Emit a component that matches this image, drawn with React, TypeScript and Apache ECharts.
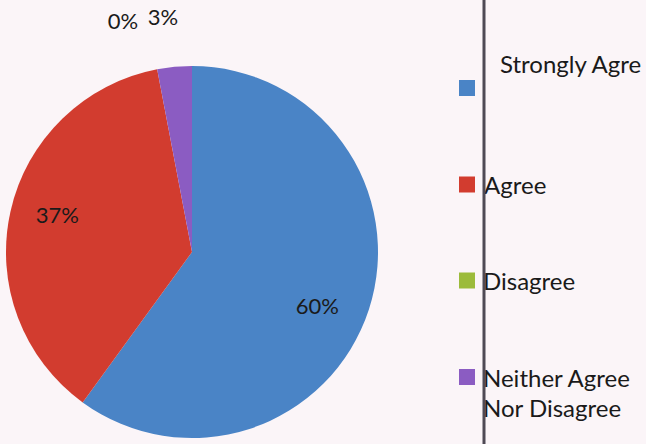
import React, { useEffect, useRef } from "react";
import * as echarts from "echarts";

const categories = ["Strongly Agree", "Agree", "Disagree", "Neither Agree Nor Disagree"];
const values = [60, 37, 0, 3];
const colors = ["#4a84c6", "#d23c2f", "#9cbb3b", "#8b5cc2"];
const legendLabels = ["Strongly Agre\n", "Agree", "Disagree", "\nNeither Agree\nNor Disagree"];

export default function App() {
  const ref = useRef<HTMLDivElement>(null);
  useEffect(() => {
    if (!ref.current) return;
    const chart = echarts.init(ref.current, null, { renderer: "svg" });
    const font = "Lato, 'Open Sans', sans-serif";
    const labelOffsets: Record<string, number[]> = {
      "Strongly Agree": [34, 24],
      Agree: [-41, -17],
      Disagree: [-51, -137],
      "Neither Agree Nor Disagree": [-20, -140],
    };
    const legendTops = [38, 172, 268, 332];
    const legendLineHeights = [50, 25, 25, 30];
    const legendPadLeft = [20, 4, 3, 3];
    const legends = categories.map((c, i) => ({
      data: [c],
      orient: "vertical",
      left: 459,
      top: legendTops[i],
      padding: 0,
      itemWidth: 16,
      itemHeight: 16,
      icon: "rect",
      selectedMode: false,
      formatter: () => legendLabels[i],
      textStyle: {
        fontFamily: font,
        fontSize: 24,
        color: "#1a1a1a",
        lineHeight: legendLineHeights[i],
        padding: [0, 0, 0, legendPadLeft[i]],
      },
    }));
    chart.setOption({
      animation: false,
      backgroundColor: "#fbf5f8",
      legend: legends,
      graphic: [
        {
          type: "line",
          shape: { x1: 484, y1: 0, x2: 484, y2: 444 },
          style: { stroke: "#4f4a55", lineWidth: 3 },
          z: 10,
        },
      ],
      series: [
        {
          type: "pie",
          center: [192, 252],
          radius: 186,
          startAngle: 90,
          clockwise: true,
          avoidLabelOverlap: false,
          itemStyle: { borderWidth: 0 },
          emphasis: { disabled: true },
          labelLine: { show: false },
          label: {
            show: true,
            position: "inside",
            fontFamily: font,
            fontSize: 22,
            color: "#1a1a1a",
          },
          data: categories.map((c, i) => ({
            name: c,
            value: values[i],
            itemStyle: { color: colors[i] },
            label: { offset: labelOffsets[c], formatter: `${values[i]}%` },
          })),
        },
      ],
    });
    return () => chart.dispose();
  }, []);
  return (
    <div
      ref={ref}
      style={{ position: "absolute", left: 0, top: 0, width: 646, height: 444 }}
    />
  );
}
